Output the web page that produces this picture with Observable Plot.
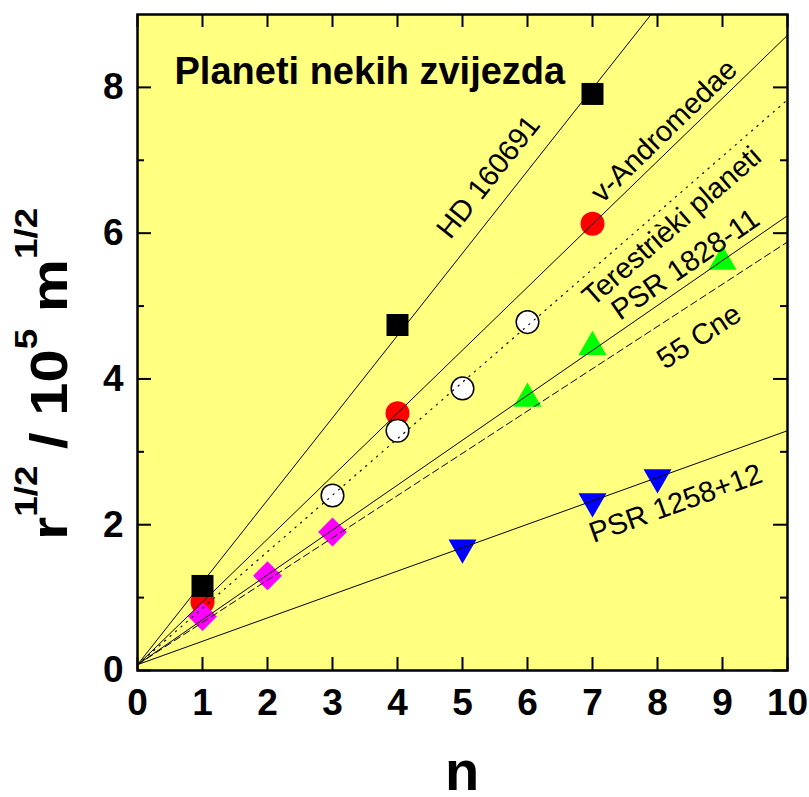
<!DOCTYPE html>
<html><head><meta charset="utf-8">
<script src="https://cdn.jsdelivr.net/npm/d3@7"></script>
<script src="https://cdn.jsdelivr.net/npm/@observablehq/plot@0.6"></script>
<style>body{margin:0;background:#fff;color:#000}</style>
</head><body><div id="chart"></div>
<script>
// ---- data ----
const nHD = [1, 4, 7];            const yHD = [1.16, 4.74, 7.91];
const nAnd = [1, 4, 7];           const yAnd = [0.94, 3.53, 6.13];
const nTer = [3, 4, 5, 6];        const yTer = [2.40, 3.29, 3.87, 4.78];
const nP1828 = [6, 7, 9];         const yP1828 = [3.73, 4.44, 5.61];
const nCne = [1, 2, 3];           const yCne = [0.74, 1.30, 1.90];
const nP1258 = [5, 7, 8];         const yP1258 = [1.685, 2.32, 2.65];

const lineNames  = ["HD 160691", "v-Andromedae", "Terestrièki planeti", "PSR 1828-11", "55 Cne", "PSR 1258+12"];
const lineStyle  = ["solid", "solid", "dotted", "solid", "dashed", "solid"];
const slopes     = [1.129, 0.864, 0.775, 0.616, 0.580, 0.321];
const intercepts = [0.08, 0.075, 0.08, 0.08, 0.08, 0.08];
const labelN     = [5.40, 8.10, 8.22, 8.43, 8.64, 8.28];
const labelY     = [6.77, 7.40, 6.09, 5.57, 4.58, 2.29];

const xTicks = [0, 1, 2, 3, 4, 5, 6, 7, 8, 9, 10];
const yMajor = [0, 2, 4, 6, 8];
const yMinor = [1, 3, 5, 7];
const title = "Planeti nekih zvijezda";

// ---- layout ----
const W = 809, H = 797, mL = 137, mR = 22, mT = 14, mB = 127;
const pw = W - mL - mR, ph = H - mT - mB;
const xMax = 10, yMax = 9;
const aspect = (ph / yMax) / (pw / xMax);
const FONT = "Liberation Sans, Arial, Helvetica, sans-serif";

const pts = (ns, ys) => ns.map((n, i) => ({n, y: ys[i]}));
const lineData = lineNames.flatMap((name, i) => [0, xMax].map(n => ({name, style: lineStyle[i], n, y: intercepts[i] + slopes[i] * n})));
const labels = lineNames.map((name, i) => ({name, n: labelN[i], y: labelY[i], angle: -Math.atan(slopes[i] * aspect) * 180 / Math.PI}));

const plot = Plot.plot({
  width: W, height: H,
  marginLeft: mL, marginRight: mR, marginTop: mT, marginBottom: mB,
  style: {fontFamily: FONT, background: "white", color: "black", overflow: "visible"},
  x: {domain: [0, xMax], axis: null},
  y: {domain: [0, yMax], axis: null},
  marks: [
    Plot.frame({fill: "#FFFF80"}),
    Plot.dot(pts(nAnd, yAnd), {x: "n", y: "y", r: 12, fill: "#FF0000", symbol: "circle"}),
    Plot.dot(pts(nHD, yHD), {x: "n", y: "y", r: 12.4, fill: "#000", symbol: "square"}),
    Plot.dot(pts(nTer, yTer), {x: "n", y: "y", r: 11.3, fill: "#fff", stroke: "#000", strokeWidth: 1.5, symbol: "circle"}),
    Plot.dot(pts(nP1828, yP1828), {x: "n", y: "y", r: 10.4, fill: "#00FF00", symbol: "triangle"}),
    Plot.dot(pts(nP1258, yP1258), {x: "n", y: "y", r: 10.4, fill: "#0000FF", symbol: "triangle", rotate: 180}),
    Plot.dot(pts(nCne, yCne), {x: "n", y: "y", r: 13, fill: "#FF00FF", symbol: "diamond2"}),
    Plot.line(lineData.filter(d => d.style === "solid"), {x: "n", y: "y", z: "name", stroke: "#000", strokeWidth: 1, clip: true}),
    Plot.line(lineData.filter(d => d.style === "dotted"), {x: "n", y: "y", z: "name", stroke: "#000", strokeWidth: 1.2, strokeDasharray: "1.2,6", clip: true}),
    Plot.line(lineData.filter(d => d.style === "dashed"), {x: "n", y: "y", z: "name", stroke: "#000", strokeWidth: 1, strokeDasharray: "7,4", clip: true}),
    Plot.text(labels, {x: "n", y: "y", text: "name", rotate: "angle", fontSize: 29, textAnchor: "middle", lineAnchor: "middle", fill: "#000"}),
    Plot.text([title], {frameAnchor: "top-left", dx: 37, dy: 43, text: d => d, fontSize: 38, fontWeight: "bold", textAnchor: "start", lineAnchor: "top", fill: "#000"}),
    // inward ticks on all four sides
    Plot.tickX(xTicks, {x: d => d, insetTop: ph - 13, stroke: "#000", strokeWidth: 2}),
    Plot.tickX(xTicks, {x: d => d, insetBottom: ph - 13, stroke: "#000", strokeWidth: 2}),
    Plot.tickY(yMajor, {y: d => d, insetRight: pw - 14, stroke: "#000", strokeWidth: 2}),
    Plot.tickY(yMinor, {y: d => d, insetRight: pw - 7, stroke: "#000", strokeWidth: 2}),
    Plot.tickY(yMajor, {y: d => d, insetLeft: pw - 14, stroke: "#000", strokeWidth: 2}),
    Plot.tickY(yMinor, {y: d => d, insetLeft: pw - 7, stroke: "#000", strokeWidth: 2}),
    Plot.frame({stroke: "#000", strokeWidth: 2.5}),
    Plot.axisX({ticks: xTicks, tickSize: 0, tickPadding: 18, fontSize: 37, fontWeight: "bold", label: null, tickFormat: d => String(d)}),
    Plot.axisY({ticks: yMajor, tickSize: 0, tickPadding: 14, fontSize: 37, fontWeight: "bold", label: null, tickFormat: d => String(d)})
  ]
});
document.getElementById("chart").appendChild(plot);

// axis titles (with superscripts)
const svg = d3.select(plot);
svg.append("text")
  .attr("x", mL + pw / 2).attr("y", 790)
  .attr("text-anchor", "middle")
  .attr("font-family", FONT).attr("font-weight", "bold").attr("font-size", 56)
  .attr("fill", "#000").text("n");

const yl = svg.append("text")
  .attr("transform", "translate(67,540) rotate(-90) scale(1.15,1)")
  .attr("text-anchor", "start")
  .attr("font-family", FONT).attr("font-weight", "bold").attr("font-size", 52)
  .attr("fill", "#000").style("white-space", "pre");
yl.append("tspan").text("r");
yl.append("tspan").attr("dy", -30).attr("font-size", 32).text("1/2");
yl.append("tspan").attr("dy", 30).text(" / 10");
yl.append("tspan").attr("dy", -30).attr("font-size", 32).text("5");
yl.append("tspan").attr("dy", 30).text(" m");
yl.append("tspan").attr("dy", -30).attr("font-size", 32).text("1/2");
</script>
</body></html>
